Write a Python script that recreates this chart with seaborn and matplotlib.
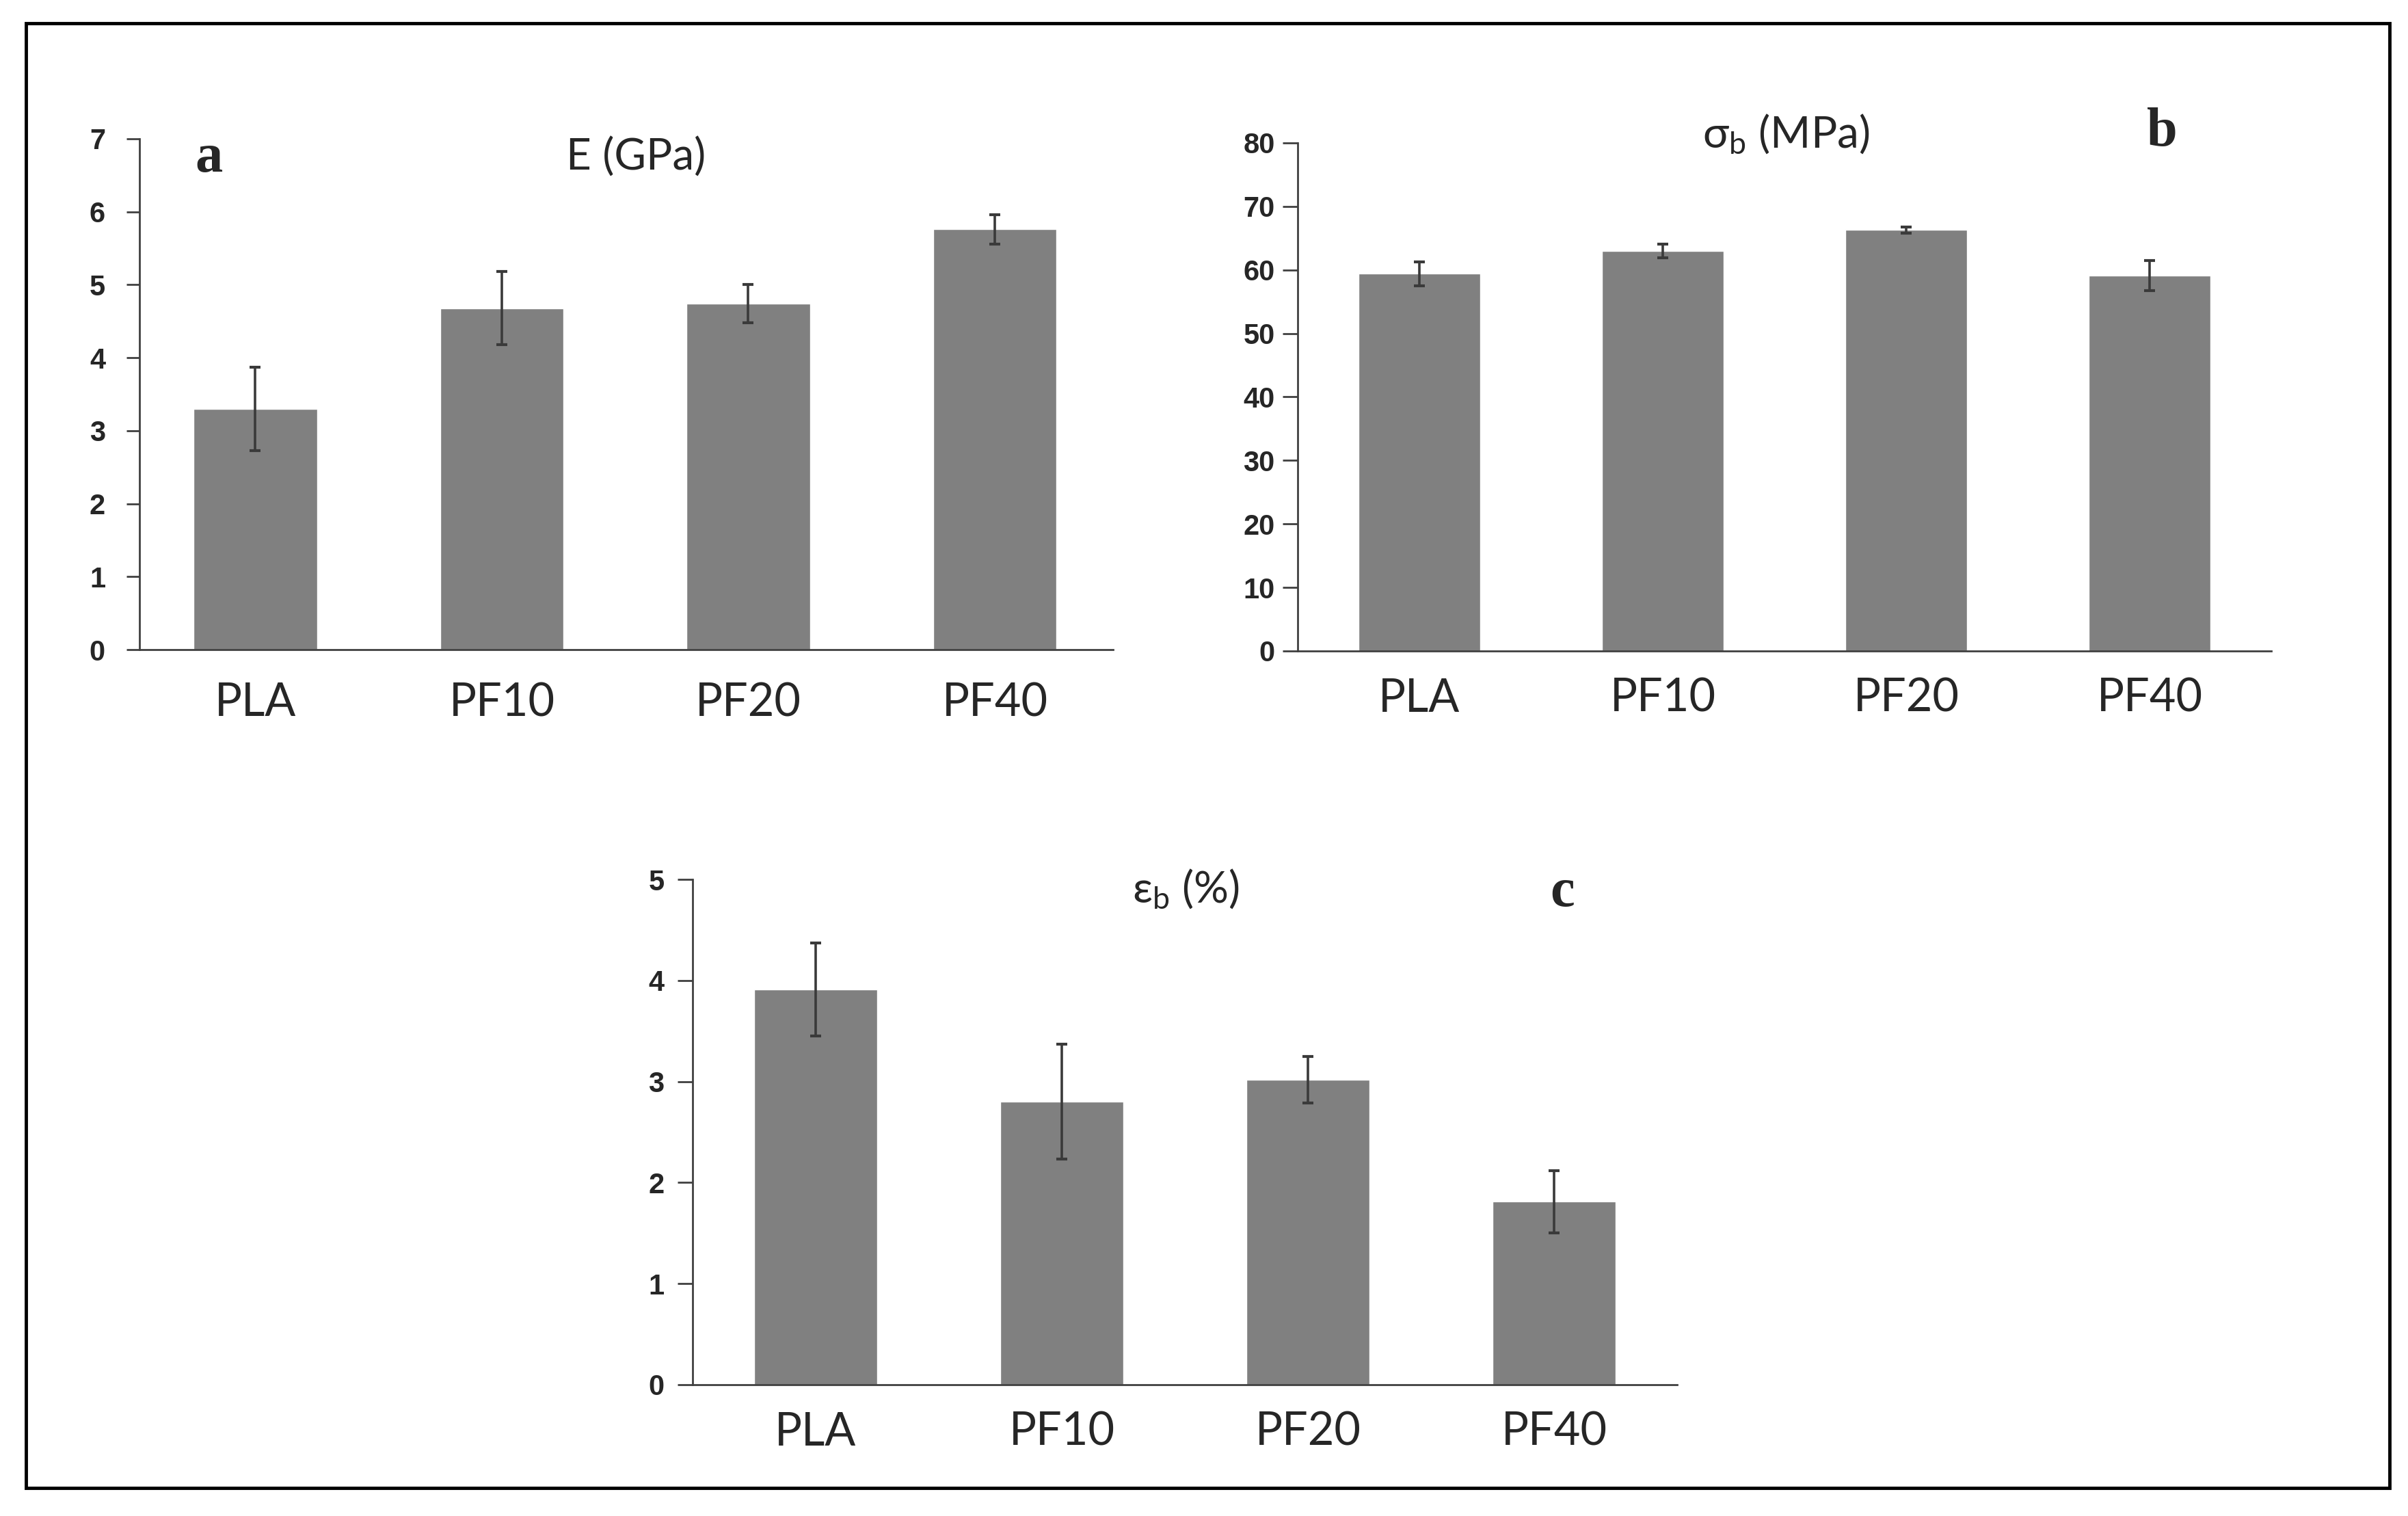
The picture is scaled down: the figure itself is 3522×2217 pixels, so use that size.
import pandas as pd
import seaborn as sns
import matplotlib.pyplot as plt
from matplotlib.patches import Rectangle

# data
samples = ["PLA", "PF10", "PF20", "PF40"]
modulus = [3.30, 4.68, 4.74, 5.76]
modulus_err = [0.57, 0.50, 0.26, 0.20]
strength = [59.4, 63.0, 66.3, 59.1]
strength_err = [1.9, 1.1, 0.5, 2.4]
elongation = [3.91, 2.80, 3.02, 1.81]
elongation_err = [0.46, 0.57, 0.23, 0.31]

sns.set_style("ticks")
plt.rcParams["font.family"] = ["Lato", "DejaVu Sans"]
plt.rcParams["mathtext.fontset"] = "custom"
plt.rcParams["mathtext.rm"] = "Lato"
plt.rcParams["mathtext.it"] = "Lato"

W, H = 3522, 2217
fig = plt.figure(figsize=(W / 100, H / 100), dpi=100)
fig.patch.set_facecolor("white")


def box(left, top, right, bottom):
    return [left / W, 1 - bottom / H, (right - left) / W, (bottom - top) / H]


def panel(rect, vals, errs, ymax, step, xlim, ylen, ypad, xpad):
    ax = fig.add_axes(rect)
    df = pd.DataFrame({"sample": samples, "value": vals})
    sns.barplot(data=df, x="sample", y="value", color="#808080", width=0.5,
                saturation=1, errorbar=None, ax=ax)
    ax.errorbar(range(len(samples)), vals, yerr=errs, fmt="none",
                ecolor="#3a3a3a", elinewidth=2.6, capsize=6, capthick=3)
    ax.set_ylim(0, ymax)
    ax.set_xlim(*xlim)
    ax.set_yticks(range(0, ymax + 1, step))
    ax.set_xlabel("")
    ax.set_ylabel("")
    sns.despine(ax=ax)
    for s in ["left", "bottom"]:
        ax.spines[s].set_color("#404040")
        ax.spines[s].set_linewidth(2)
    ax.tick_params(axis="y", length=ylen, width=2, color="#404040", pad=ypad)
    ax.tick_params(axis="x", length=0, pad=xpad, labelsize=48)
    for t in ax.get_yticklabels():
        t.set_fontfamily(["Liberation Sans", "DejaVu Sans"])
        t.set_fontweight("bold")
        t.set_fontsize(30)
    return ax


panel(box(204, 203, 1628, 950), modulus, modulus_err, 7, 1, (-0.47, 3.48), 14, 22, 34)
panel(box(1898, 209, 3322, 952), strength, strength_err, 80, 10, (-0.5, 3.5), 16, 8, 28)
panel(box(1013, 1286, 2453, 2025), elongation, elongation_err, 5, 1, (-0.5, 3.5), 16, 14, 28)

# panel titles and letters
fig.text(930 / W, 1 - 230 / H, "E (GPa)", fontsize=46, ha="center", va="center")
fig.text(2612 / W, 1 - 196 / H, r"$\mathregular{σ_b}$ (MPa)", fontsize=46, ha="center", va="center")
fig.text(1735 / W, 1 - 1300 / H, r"$\mathregular{ε_b}$ (%)", fontsize=46, ha="center", va="center")
for letter, x, y in [("a", 305, 231), ("b", 3162, 194), ("c", 2285, 1306)]:
    fig.text(x / W, 1 - y / H, letter, fontsize=58, fontweight="bold",
             family="Liberation Serif", ha="center", va="center")

# outer frame
fig.add_artist(Rectangle((38 / W, 1 - 2176 / H), (3495 - 38) / W, (2176 - 34) / H,
                         transform=fig.transFigure, fill=False, edgecolor="black", linewidth=3.5))

fig.savefig("out.png", dpi=100)
